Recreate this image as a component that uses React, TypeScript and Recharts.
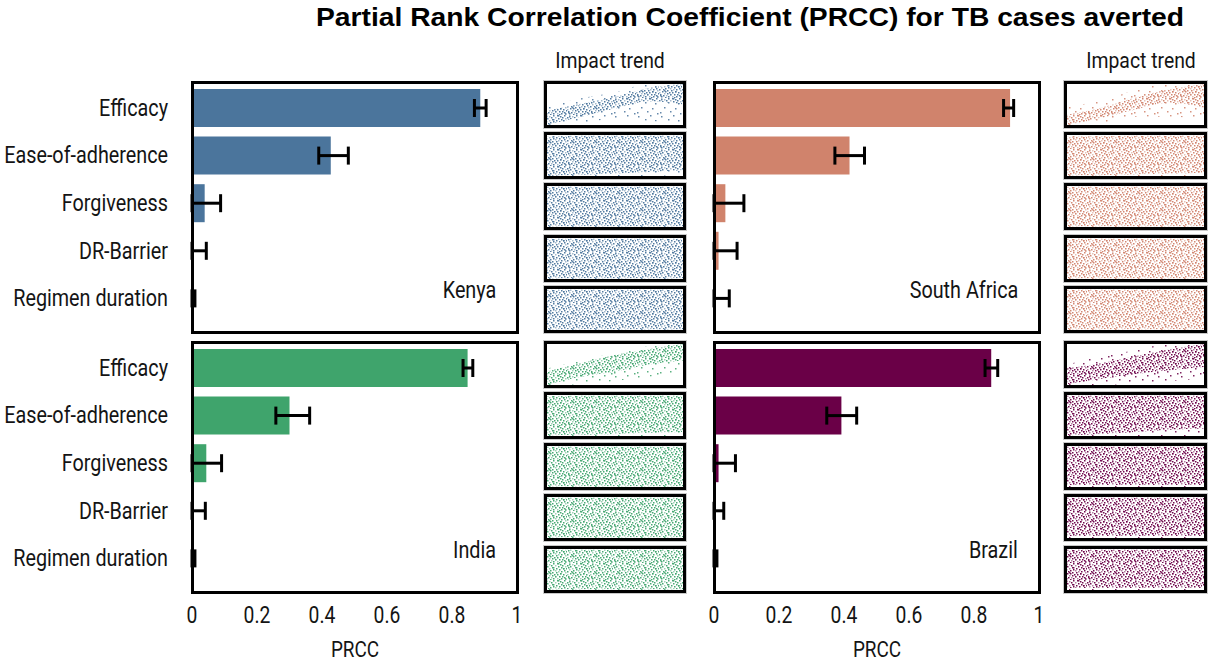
import React from "react";
import { Area, AreaChart, Bar, BarChart, ErrorBar, XAxis, YAxis } from "recharts";

const FONT = "Roboto, 'Liberation Sans', sans-serif";
const TITLE_FONT = "'Liberation Sans', Arial, sans-serif";
const SX = 0.86; // horizontal squeeze to mimic the condensed face of the original

/* ---------- data ---------- */
const params = ["Efficacy", "Ease-of-adherence", "Forgiveness", "DR-Barrier", "Regimen duration"];
const prccTicks = [0, 0.2, 0.4, 0.6, 0.8, 1];

const kenyaPrcc = [0.887, 0.427, 0.039, 0.003, 0.003];
const kenyaLow = [0.869, 0.39, 0, 0, 0];
const kenyaHigh = [0.905, 0.481, 0.088, 0.044, 0.009];

const southAfricaPrcc = [0.911, 0.417, 0.035, 0.014, 0.003];
const southAfricaLow = [0.891, 0.372, 0, 0, 0];
const southAfricaHigh = [0.922, 0.463, 0.092, 0.071, 0.047];

const indiaPrcc = [0.848, 0.3, 0.044, 0.003, 0.003];
const indiaLow = [0.834, 0.258, 0, 0, 0];
const indiaHigh = [0.864, 0.362, 0.091, 0.041, 0.009];

const brazilPrcc = [0.853, 0.392, 0.014, 0.003, 0.003];
const brazilLow = [0.834, 0.347, 0, 0, 0];
const brazilHigh = [0.873, 0.439, 0.066, 0.03, 0.009];

// impact trend thumbnails: envelope of the point cloud (fraction of panel height)
const trendX = [0, 0.25, 0.5, 0.75, 1];

const kenyaBandLo = [
  [0, 0.2, 0.4, 0.58, 0.5],
  [0, 0.03, 0.06, 0.1, 0.14],
  [0.02, 0.02, 0.02, 0.02, 0.02],
  [0.02, 0.02, 0.02, 0.02, 0.02],
  [0.02, 0.02, 0.02, 0.02, 0.02],
];
const kenyaBandHi = [
  [0.35, 0.52, 0.68, 0.9, 1],
  [0.96, 0.98, 0.98, 0.98, 0.98],
  [0.98, 0.98, 0.98, 0.98, 0.98],
  [0.98, 0.98, 0.98, 0.98, 0.98],
  [0.98, 0.98, 0.98, 0.98, 0.98],
];
const kenyaCloudLo = [
  [0, 0.05, 0.15, 0.1, 0.05],
  [0, 0, 0, 0, 0.05],
  [0, 0, 0, 0, 0],
  [0, 0, 0, 0, 0],
  [0, 0, 0, 0, 0],
];
const kenyaCloudHi = [
  [0.45, 0.65, 0.8, 1, 1],
  [1, 1, 1, 1, 1],
  [1, 1, 1, 1, 1],
  [1, 1, 1, 1, 1],
  [1, 1, 1, 1, 1],
];

const southAfricaBandLo = [
  [0, 0.17, 0.38, 0.54, 0.42],
  [0.02, 0.02, 0.04, 0.06, 0.08],
  [0.02, 0.02, 0.02, 0.02, 0.02],
  [0.02, 0.02, 0.02, 0.02, 0.02],
  [0.02, 0.02, 0.02, 0.02, 0.02],
];
const southAfricaBandHi = [
  [0.25, 0.42, 0.67, 0.87, 1],
  [0.96, 0.97, 0.98, 0.98, 0.98],
  [0.98, 0.98, 0.98, 0.98, 0.98],
  [0.98, 0.98, 0.98, 0.98, 0.98],
  [0.98, 0.98, 0.98, 0.98, 0.98],
];
const southAfricaCloudLo = [
  [0, 0.05, 0.2, 0.2, 0.15],
  [0, 0, 0, 0, 0],
  [0, 0, 0, 0, 0],
  [0, 0, 0, 0, 0],
  [0, 0, 0, 0, 0],
];
const southAfricaCloudHi = [
  [0.45, 0.6, 0.85, 1, 1],
  [1, 1, 1, 1, 1],
  [1, 1, 1, 1, 1],
  [1, 1, 1, 1, 1],
  [1, 1, 1, 1, 1],
];

const indiaBandLo = [
  [0, 0.2, 0.33, 0.5, 0.6],
  [0.02, 0.03, 0.05, 0.08, 0.1],
  [0.02, 0.02, 0.02, 0.02, 0.02],
  [0.02, 0.02, 0.02, 0.02, 0.02],
  [0.02, 0.02, 0.02, 0.02, 0.02],
];
const indiaBandHi = [
  [0.33, 0.53, 0.73, 0.88, 1],
  [0.97, 0.98, 0.98, 0.98, 0.98],
  [0.98, 0.98, 0.98, 0.98, 0.98],
  [0.98, 0.98, 0.98, 0.98, 0.98],
  [0.98, 0.98, 0.98, 0.98, 0.98],
];
const indiaCloudLo = [
  [0, 0.02, 0.1, 0.2, 0.3],
  [0, 0, 0, 0, 0],
  [0, 0, 0, 0, 0],
  [0, 0, 0, 0, 0],
  [0, 0, 0, 0, 0],
];
const indiaCloudHi = [
  [0.4, 0.6, 0.78, 0.95, 1],
  [1, 1, 1, 1, 1],
  [1, 1, 1, 1, 1],
  [1, 1, 1, 1, 1],
  [1, 1, 1, 1, 1],
];

const brazilBandLo = [
  [0.02, 0.15, 0.27, 0.36, 0.44],
  [0.02, 0.05, 0.1, 0.15, 0.18],
  [0.05, 0.05, 0.05, 0.05, 0.05],
  [0.05, 0.05, 0.05, 0.05, 0.05],
  [0.05, 0.05, 0.05, 0.05, 0.05],
];
const brazilBandHi = [
  [0.4, 0.53, 0.7, 0.87, 1],
  [0.98, 0.98, 0.98, 0.98, 0.98],
  [0.98, 0.98, 0.98, 0.98, 0.98],
  [0.98, 0.98, 0.98, 0.98, 0.98],
  [0.98, 0.98, 0.98, 0.98, 0.98],
];
const brazilCloudLo = [
  [0, 0, 0.05, 0.1, 0.15],
  [0, 0, 0, 0, 0],
  [0, 0, 0, 0, 0],
  [0, 0, 0, 0, 0],
  [0, 0, 0, 0, 0],
];
const brazilCloudHi = [
  [0.5, 0.7, 0.85, 1, 1],
  [1, 1, 1, 1, 1],
  [1, 1, 1, 1, 1],
  [1, 1, 1, 1, 1],
  [1, 1, 1, 1, 1],
];

/* ---------- styling ---------- */
const KENYA = "#4b759c";
const SOUTH_AFRICA = "#d0836c";
const INDIA = "#3fa46c";
const BRAZIL = "#6a0047";

// stipple texture (23x17 tile) used to fill the point-cloud envelopes
const TILE_W = 23;
const TILE_H = 17;
const DENSE_DOTS = [
  [2, 0], [9, 0], [13, 0], [20, 0], [5, 1], [16, 1], [0, 2], [7, 2], [11, 2], [18, 2],
  [3, 3], [14, 3], [21, 3], [1, 4], [8, 4], [17, 4], [5, 5], [12, 5], [19, 5], [22, 5],
  [2, 6], [9, 6], [15, 6], [6, 7], [11, 7], [20, 7], [0, 8], [4, 8], [14, 8], [17, 8],
  [8, 9], [12, 9], [21, 9], [3, 10], [6, 10], [16, 10], [0, 11], [10, 11], [13, 11], [19, 11],
  [5, 12], [8, 12], [22, 12], [1, 13], [11, 13], [15, 13], [18, 13], [4, 14], [7, 14], [20, 14],
  [2, 15], [9, 15], [13, 15], [17, 15], [6, 16], [15, 16], [21, 16],
];
const SPARSE_DOTS = [[2, 1], [14, 0], [19, 5], [9, 4], [5, 9], [16, 10], [1, 14], [11, 13], [21, 15]];

const ROWS_TOP = [81, 132, 183, 235, 286];
const ROWS_BOTTOM = [341, 392, 443, 494, 546];

const INK = "#141414";

function CategoryTick({ x, y, payload }: any) {
  return (
    <text transform={`translate(${x},${y}) scale(${SX},1)`} textAnchor="end" dominantBaseline="central"
      fontFamily={FONT} fontSize={23} fill={INK}>
      {payload.value}
    </text>
  );
}

function ValueTick({ x, y, payload }: any) {
  return (
    <text transform={`translate(${x},${y}) scale(0.84,1)`} textAnchor="middle" dominantBaseline="central"
      fontFamily={FONT} fontSize={23} fill={INK}>
      {payload.value}
    </text>
  );
}

// inward tick marks on the frame
function InTick({ x, y, side, len = 5, color = "#000", width = 2.5 }: any) {
  const d =
    side === "bottom" ? [x, y, x, y - len] : side === "top" ? [x, y, x, y + len] : [x, y, x - len, y];
  return <line x1={d[0]} y1={d[1]} x2={d[2]} y2={d[3]} stroke={color} strokeWidth={width} />;
}

function PrccPanel({
  left,
  top,
  color,
  prcc,
  low,
  high,
  country,
  labels,
  bottomAxis,
  innerTicks,
}: {
  left: number;
  top: number;
  color: string;
  prcc: number[];
  low: number[];
  high: number[];
  country: string;
  labels: boolean;
  bottomAxis: boolean;
  innerTicks: number[];
}) {
  const data = params.map((name, i) => ({
    name,
    prcc: prcc[i],
    err: [prcc[i] - low[i], high[i] - prcc[i]],
  }));
  const side = 20;
  const labelW = labels ? 192 : 0;
  const plotW = 325;
  const plotH = 250;
  const axisH = bottomAxis ? 64 : 0;
  const pad = { top: 2, bottom: 10 };
  const chartW = side + labelW + plotW + side;

  return (
    <div style={{ position: "absolute", left: left - labelW - side, top, width: chartW, height: plotH + axisH }}>
      <BarChart
        layout="vertical"
        width={chartW}
        height={plotH + axisH}
        data={data}
        margin={{ top: 0, right: side, bottom: 0, left: side }}
        barSize={38}
      >
        <XAxis xAxisId="tb" type="number" domain={[0, 1]} ticks={innerTicks} orientation="bottom" mirror
          height={0} tick={<InTick side="bottom" />} tickSize={0} tickMargin={0} tickLine={false} axisLine={false} />
        <XAxis xAxisId="tt" type="number" domain={[0, 1]} ticks={innerTicks} orientation="top" mirror
          height={0} tick={<InTick side="top" />} tickSize={0} tickMargin={0} tickLine={false} axisLine={false} />
        <XAxis
          xAxisId="v"
          type="number"
          domain={[0, 1]}
          ticks={prccTicks}
          orientation="bottom"
          hide={!bottomAxis}
          height={axisH}
          tickLine={false}
          axisLine={false}
          tickSize={0}
          tickMargin={23}
          tick={<ValueTick />}
          interval={0}
        />
        <YAxis
          yAxisId="c"
          type="category"
          dataKey="name"
          width={labelW}
          hide={!labels}
          tick={<CategoryTick />}
          tickLine={false}
          axisLine={false}
          tickSize={0}
          tickMargin={24}
          interval={0}
          padding={pad}
        />
        <YAxis yAxisId="r" type="category" dataKey="name" orientation="right" mirror width={0}
          tick={<InTick side="right" />} tickSize={0} tickMargin={0} tickLine={false} axisLine={false}
          interval={0} padding={pad} />
        <Bar xAxisId="v" yAxisId="c" dataKey="prcc" fill={color} isAnimationActive={false}>
          <ErrorBar dataKey="err" direction="x" width={9} strokeWidth={3} stroke="#000" isAnimationActive={false} />
        </Bar>
      </BarChart>
      <div
        style={{
          position: "absolute",
          left: side + labelW - 1.5,
          top: -1.5,
          width: plotW + 3,
          height: plotH + 3,
          border: "3px solid #000",
          boxSizing: "border-box",
          pointerEvents: "none",
        }}
      />
      <div
        style={{
          position: "absolute",
          right: side + 21,
          top: 208,
          transform: `translateY(-50%) scaleX(${SX})`,
          transformOrigin: "right center",
          fontFamily: FONT,
          fontSize: 23,
          color: INK,
          whiteSpace: "nowrap",
        }}
      >
        {country}
      </div>
      {bottomAxis && (
        <div
          style={{
            position: "absolute",
            left: side + labelW + plotW / 2,
            top: plotH + 57,
            transform: `translate(-50%, -50%) scaleX(${SX})`,
            fontFamily: FONT,
            fontSize: 22,
            color: INK,
            whiteSpace: "nowrap",
          }}
        >
          PRCC
        </div>
      )}
    </div>
  );
}

function TrendThumb({
  left,
  top,
  width,
  color,
  pid,
  bandLo,
  bandHi,
  cloudLo,
  cloudHi,
}: {
  left: number;
  top: number;
  width: number;
  color: string;
  pid: string;
  bandLo: number[];
  bandHi: number[];
  cloudLo: number[];
  cloudHi: number[];
}) {
  const height = 47;
  const data = trendX.map((x, i) => ({
    x,
    cloud: [cloudLo[i], cloudHi[i]],
    band: [bandLo[i], bandHi[i]],
  }));
  const midTick = { side: "bottom", len: 3, width: 1.5, color: "#333" };
  return (
    <div style={{ position: "absolute", left, top, width, height }}>
      <AreaChart width={width} height={height} data={data} margin={{ top: 3, right: 3, bottom: 3, left: 3 }}>
        <defs>
          <pattern id={`dense-${pid}`} width={TILE_W} height={TILE_H} patternUnits="userSpaceOnUse">
            {DENSE_DOTS.map(([dx, dy], i) => (
              <rect key={i} x={dx} y={dy} width={1.5} height={1.5} fill={color} opacity={i % 4 === 0 ? 0.5 : 0.95} />
            ))}
          </pattern>
          <pattern id={`sparse-${pid}`} width={TILE_W} height={TILE_H} patternUnits="userSpaceOnUse">
            {SPARSE_DOTS.map(([dx, dy], i) => (
              <rect key={i} x={dx} y={dy} width={1.5} height={1.5} fill={color} opacity={0.85} />
            ))}
          </pattern>
        </defs>
        <XAxis dataKey="x" type="number" domain={[0, 1]} hide />
        <XAxis xAxisId="mb" type="number" domain={[0, 1]} ticks={[0.5]} orientation="bottom" mirror height={0}
          tick={<InTick {...midTick} />} tickSize={0} tickMargin={0} tickLine={false} axisLine={false} />
        <XAxis xAxisId="mt" type="number" domain={[0, 1]} ticks={[0.5]} orientation="top" mirror height={0}
          tick={<InTick {...midTick} side="top" />} tickSize={0} tickMargin={0} tickLine={false} axisLine={false} />
        <YAxis type="number" domain={[0, 1]} hide />
        <Area dataKey="cloud" type="monotone" stroke="none" fill={`url(#sparse-${pid})`} fillOpacity={1}
          dot={false} activeDot={false} isAnimationActive={false} />
        <Area dataKey="band" type="monotone" stroke="none" fill={`url(#dense-${pid})`} fillOpacity={1}
          dot={false} activeDot={false} isAnimationActive={false} />
      </AreaChart>
      <div
        style={{
          position: "absolute",
          inset: 0,
          border: "3px solid #000",
          boxShadow: "0 0 0 1px #c9c9c9",
          boxSizing: "border-box",
        }}
      />
    </div>
  );
}

function TrendColumn({
  left,
  width,
  rows,
  color,
  pid,
  bandLo,
  bandHi,
  cloudLo,
  cloudHi,
}: {
  left: number;
  width: number;
  rows: number[];
  color: string;
  pid: string;
  bandLo: number[][];
  bandHi: number[][];
  cloudLo: number[][];
  cloudHi: number[][];
}) {
  return (
    <>
      {rows.map((top, i) => (
        <TrendThumb
          key={i}
          left={left}
          top={top}
          width={width}
          color={color}
          pid={`${pid}${i}`}
          bandLo={bandLo[i]}
          bandHi={bandHi[i]}
          cloudLo={cloudLo[i]}
          cloudHi={cloudHi[i]}
        />
      ))}
    </>
  );
}

const headStyle: React.CSSProperties = {
  position: "absolute",
  fontFamily: FONT,
  fontSize: 22,
  color: INK,
  whiteSpace: "nowrap",
  transform: `translate(-50%, -50%) scaleX(0.88)`,
};

export default function App() {
  return (
    <div
      style={{
        position: "absolute",
        left: 0,
        top: 0,
        width: 1212,
        height: 663,
        background: "#fff",
        overflow: "hidden",
      }}
    >
      <div
        style={{
          position: "absolute",
          left: 750,
          top: 17,
          transform: "translate(-50%, -50%) scaleX(1.13)",
          fontFamily: TITLE_FONT,
          fontWeight: "bold",
          fontSize: 25,
          color: "#000",
          whiteSpace: "nowrap",
        }}
      >
        Partial Rank Correlation Coefficient (PRCC) for TB cases averted
      </div>
      <div style={{ ...headStyle, left: 610, top: 60 }}>Impact trend</div>
      <div style={{ ...headStyle, left: 1141, top: 60 }}>Impact trend</div>

      <PrccPanel left={192} top={82} color={KENYA} prcc={kenyaPrcc} low={kenyaLow} high={kenyaHigh}
        country="Kenya" labels bottomAxis={false} innerTicks={[0.5]} />
      <PrccPanel left={714} top={82} color={SOUTH_AFRICA} prcc={southAfricaPrcc} low={southAfricaLow}
        high={southAfricaHigh} country="South Africa" labels={false} bottomAxis={false} innerTicks={[0.5]} />
      <PrccPanel left={192} top={342} color={INDIA} prcc={indiaPrcc} low={indiaLow} high={indiaHigh}
        country="India" labels bottomAxis innerTicks={[0.2, 0.4, 0.6, 0.8]} />
      <PrccPanel left={714} top={342} color={BRAZIL} prcc={brazilPrcc} low={brazilLow} high={brazilHigh}
        country="Brazil" labels={false} bottomAxis innerTicks={[0.2, 0.4, 0.6, 0.8]} />

      <TrendColumn left={544} width={142} rows={ROWS_TOP} color={KENYA} pid="ke"
        bandLo={kenyaBandLo} bandHi={kenyaBandHi} cloudLo={kenyaCloudLo} cloudHi={kenyaCloudHi} />
      <TrendColumn left={1064} width={143} rows={ROWS_TOP} color={SOUTH_AFRICA} pid="za"
        bandLo={southAfricaBandLo} bandHi={southAfricaBandHi} cloudLo={southAfricaCloudLo} cloudHi={southAfricaCloudHi} />
      <TrendColumn left={544} width={142} rows={ROWS_BOTTOM} color={INDIA} pid="in"
        bandLo={indiaBandLo} bandHi={indiaBandHi} cloudLo={indiaCloudLo} cloudHi={indiaCloudHi} />
      <TrendColumn left={1064} width={143} rows={ROWS_BOTTOM} color={BRAZIL} pid="br"
        bandLo={brazilBandLo} bandHi={brazilBandHi} cloudLo={brazilCloudLo} cloudHi={brazilCloudHi} />
    </div>
  );
}
